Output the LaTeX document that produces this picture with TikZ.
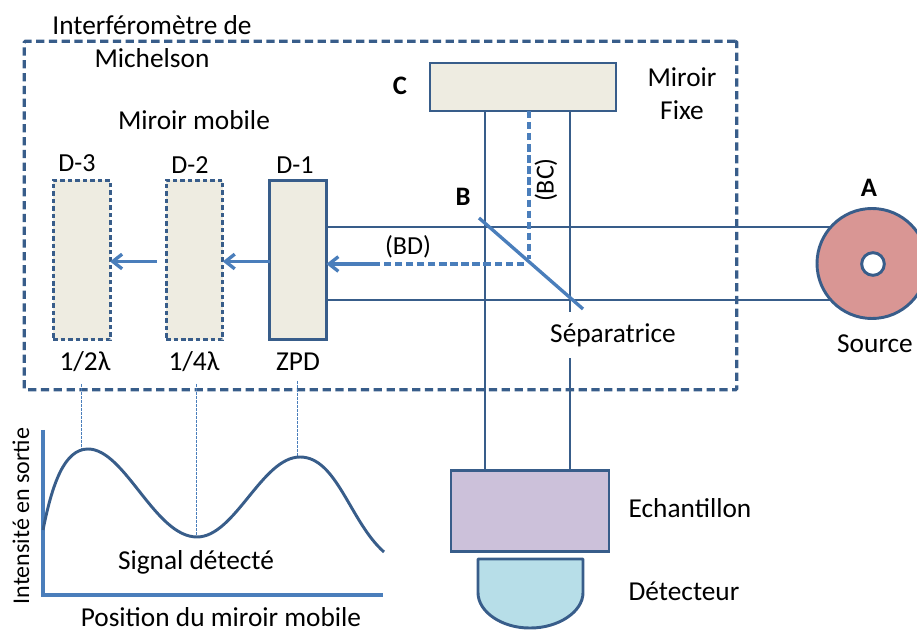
\documentclass[tikz,border=0pt]{standalone}
\usepackage{fontspec}
\setmainfont{Carlito}
\usetikzlibrary{positioning, arrows.meta, calc}
\definecolor{linedark}{HTML}{385D8A}
\definecolor{linelight}{HTML}{4A7EBB}
\definecolor{mirrorfill}{HTML}{EEECE1}
\definecolor{sourcefill}{HTML}{D99694}
\definecolor{samplefill}{HTML}{CCC1DA}
\definecolor{detectfill}{HTML}{B7DEE8}
\begin{document}
\begin{tikzpicture}[
    x=0.75pt, y=-0.75pt,
    every node/.style={font=\fontsize{20.5}{24}\selectfont, inner sep=0pt, outer sep=0pt},
    small/.style={font=\fontsize{19.5}{23}\selectfont},
    letter/.style={font=\fontsize{20}{24}\selectfont\bfseries},
    mirror/.style={draw=linedark, fill=mirrorfill, line width=2.2pt, minimum width=42.5pt, minimum height=119.5pt},
    ghost/.style={mirror, dash pattern=on 3.4pt off 2.2pt},
    frame/.style={draw=linedark, line width=2.4pt, dash pattern=on 6.2pt off 3.4pt, rounded corners=1pt},
    ray/.style={draw=linedark, line width=2.2pt},
    beam/.style={draw=linelight, line width=2.5pt},
    beamdash/.style={beam, dash pattern=on 5.5pt off 2.8pt},
    arrow/.style={beam, -{Straight Barb[length=7pt, width=11pt, line width=2.5pt]}},
    guide/.style={draw=linelight, line width=0.7pt, dash pattern=on 2pt off 1pt},
    axis/.style={draw=linelight, line width=2.7pt}
]
  \useasboundingbox (0,0) rectangle (917,630);

  % mirrors
  \node[mirror] (d1) at (298,260) {};
  \node[ghost, left=35.2pt of d1] (d2) {};
  \node[ghost, left=42pt of d2] (d3) {};
  \node[mirror, minimum width=139.5pt, minimum height=36pt] (mirC) at (523,87) {};
  \node[draw=linedark, fill=samplefill, line width=2.2pt, minimum width=118.5pt, minimum height=60.5pt] (ech) at (530,511) {};

  \coordinate (rayL) at (485,227);
  \coordinate (rayR) at (570,300);
  \coordinate (hitV) at (529,259);
  \coordinate (hitH) at (524,264);
  \coordinate (sepA) at (479,218);
  \coordinate (sepB) at (583,309);
  \coordinate (srcA) at (835,227);
  \coordinate (srcB) at (835,300);
  \coordinate (arrD) at (157,261.5);
  \coordinate (gA) at (81,384);
  \coordinate (gB) at (196,384);
  \coordinate (gC) at (297,381);
  \coordinate (pkA) at (81,450);
  \coordinate (pkB) at (196,536);
  \coordinate (pkC) at (297,457);
  \coordinate (axT) at (43,430);
  \coordinate (axO) at (43,595);
  \coordinate (axR) at (383,595);

  % rays
  \draw[ray] (mirC.south -| rayL) -- (ech.north -| rayL);
  \draw[ray] (mirC.south -| rayR) -- (ech.north -| rayR);
  \draw[ray] (d1.east |- srcA) -- (srcA);
  \draw[ray] (d1.east |- srcB) -- (srcB);
  \draw[beamdash] (mirC.south -| hitV) -- (hitV);
  \draw[beamdash] (hitH) -- (hitH -| 375,0);
  \draw[arrow] (hitH -| 375,0) -- (d1.east |- hitH);
  \draw[arrow] (d1.west |- arrD) -- (d2.east |- arrD);
  \draw[arrow] (arrD) -- (d3.east |- arrD);
  \draw[beam] (sepA) -- (sepB);

  \node[frame, minimum width=534.5pt, minimum height=261.5pt] (box) at (380.5,215.5) {};

  % source
  \node[circle, draw=linedark, fill=sourcefill, line width=2.2pt, minimum size=82.5pt] (src) at (872,263.5) {};
  \node[circle, draw=linedark, fill=white, line width=2.2pt, minimum size=17pt] (hole) at (873,264) {};

  % detector
  \path[draw=linedark, fill=detectfill, line width=2.2pt, rounded corners=0.5pt]
    (478,559) -- (583,559) -- (583,592) .. controls (583,612) and (558,628) .. (530,628)
    .. controls (502,628) and (478,612) .. (478,592) -- cycle;

  % signal
  \draw[guide] (gA) -- (pkA);
  \draw[guide] (gB) -- (pkB);
  \draw[guide] (gC) -- (pkC);
  \draw[axis] (axT) -- (axO) -- (axR);
  \draw[draw=linedark, line width=2.2pt] (43,530) .. controls (52,485) and (64,449) .. (88,449)
    .. controls (125,449) and (155,537) .. (197,537)
    .. controls (235,537) and (262,457) .. (300,457)
    .. controls (337,457) and (350,522) .. (384,552);

  % labels
  \node (t1) at (152,25) {Interféromètre de};
  \node (t2) at (152,58) {Michelson};
  \node (t3) at (194,120) {Miroir mobile};
  \node[small] (lD1) at (295,165) {D-1};
  \node[small] (lD2) at (190,165) {D-2};
  \node[small] (lD3) at (77,163) {D-3};
  \node (lZ) at (298,362) {ZPD};
  \node (lQ) at (194,362) {1/4λ};
  \node (lH) at (85,362) {1/2λ};
  \node[letter] (lC) at (400,86) {C};
  \node[letter] (lB) at (463,197) {B};
  \node[letter] (lA) at (869,188) {A};
  \node (lF1) at (682,77) {Miroir};
  \node (lF2) at (682,110) {Fixe};
  \node[small] (lBD) at (408,247) {(BD)};
  \node[small, rotate=90] (lBC) at (546,180) {(BC)};
  \node[fill=white, minimum height=34pt] (lSep) at (613,335) {Séparatrice};
  \node (lSrc) at (875,344) {Source};
  \node (lEch) at (690,508) {Echantillon};
  \node (lDet) at (684,591) {Détecteur};
  \node (lSig) at (196,562) {Signal détecté};
  \node (lPos) at (221,617.5) {Position du miroir mobile};
  \node[rotate=90, font=\fontsize{18}{21}\selectfont] (lInt) at (21,516) {Intensité en sortie};
\end{tikzpicture}
\end{document}
